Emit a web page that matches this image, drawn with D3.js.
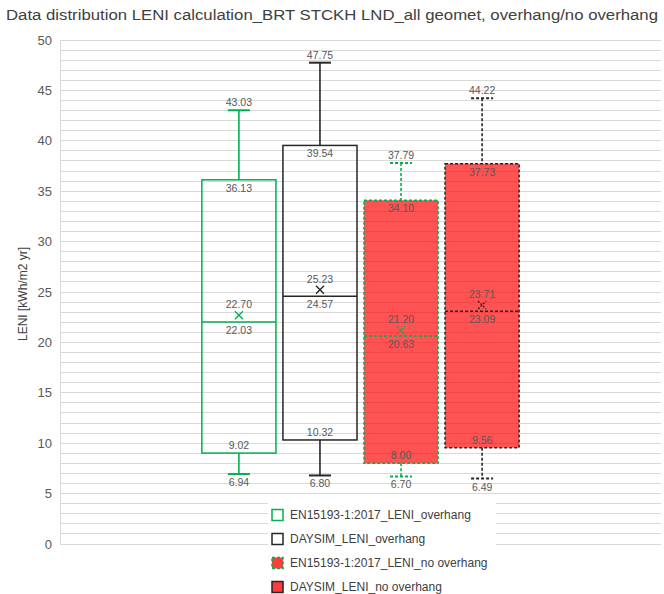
<!DOCTYPE html>
<html><head><meta charset="utf-8">
<script src="https://cdn.jsdelivr.net/npm/d3@7"></script>
<style>body{margin:0;background:#fff}svg{display:block}text{font-family:"Liberation Sans",Arial,sans-serif}</style>
</head><body><svg id="c" width="664" height="594"></svg>
<script>
const title = "Data distribution LENI calculation_BRT STCKH LND_all geomet, overhang/no overhang";
const yLabel = "LENI [kWh/m2 yr]";
const series = ["EN15193-1:2017_LENI_overhang","DAYSIM_LENI_overhang","EN15193-1:2017_LENI_no overhang","DAYSIM_LENI_no overhang"];
const mins    = [6.94, 6.80, 6.70, 6.49];
const q1s     = [9.02, 10.32, 8.00, 9.56];
const medians = [22.03, 24.57, 20.63, 23.09];
const means   = [22.70, 25.23, 21.20, 23.71];
const q3s     = [36.13, 39.54, 34.10, 37.73];
const maxs    = [43.03, 47.75, 37.79, 44.22];
const yTicks  = [0,5,10,15,20,25,30,35,40,45,50];

const strokeCols = ["#00b050","#262626","#00b050","#262626"];
const filled = [false,false,true,true];
const dashed = [false,false,true,true];
const labCol = "#595959";

const svg = d3.select("#c");
const y = d3.scaleLinear().domain([0,50]).range([544,40]);
const x = d3.scaleBand().domain(series).range([60,661]).paddingInner(0.086).paddingOuter(1.75);

// title
svg.append("text").attr("x",6).attr("y",20).attr("font-size",15.5).attr("fill","#404040")
  .attr("textLength",652).attr("lengthAdjust","spacingAndGlyphs").text(title);

// gridlines every 1
svg.append("g").selectAll("line").data(d3.range(0,51)).join("line")
  .attr("x1",60).attr("x2",661).attr("y1",d=>y(d)).attr("y2",d=>y(d))
  .attr("stroke","#d9d9d9").attr("stroke-width",1).attr("shape-rendering","crispEdges");
// left axis line
svg.append("line").attr("x1",60.5).attr("x2",60.5).attr("y1",y(50)).attr("y2",y(0)).attr("stroke","#d9d9d9");

// tick labels
const ax = svg.append("g").attr("transform","translate(60,0)")
  .call(d3.axisLeft(y).tickValues(yTicks).tickSize(0).tickPadding(8));
ax.select(".domain").remove();
ax.selectAll("text").attr("font-size",13).attr("fill",labCol).attr("font-family","Liberation Sans, Arial, sans-serif");

// y label
svg.append("text").attr("transform","translate(27,294) rotate(-90)").attr("text-anchor","middle")
  .attr("font-size",12).attr("fill","#404040").text(yLabel);

// boxes
const data = series.map((s,i)=>({s,i,min:mins[i],q1:q1s[i],med:medians[i],mean:means[i],q3:q3s[i],max:maxs[i]}));
const g = svg.append("g");
const bw = x.bandwidth();
const capW = 22;
data.forEach(d=>{
  const cx = x(d.s)+bw/2, col = strokeCols[d.i], da = dashed[d.i] ? "3,2" : null;
  const gg = g.append("g");
  gg.append("line").attr("x1",cx).attr("x2",cx).attr("y1",y(d.max)).attr("y2",y(d.q3)).attr("stroke",col).attr("stroke-width",1.6).attr("stroke-dasharray",da);
  gg.append("line").attr("x1",cx).attr("x2",cx).attr("y1",y(d.q1)).attr("y2",y(d.min)).attr("stroke",col).attr("stroke-width",1.6).attr("stroke-dasharray",da);
  [d.max,d.min].forEach(v=>gg.append("line").attr("x1",cx-capW/2).attr("x2",cx+capW/2).attr("y1",y(v)).attr("y2",y(v)).attr("stroke",col).attr("stroke-width",2).attr("stroke-dasharray",da));
  if (filled[d.i]) gg.append("rect").attr("x",x(d.s)).attr("y",y(d.q3)).attr("width",bw).attr("height",y(d.q1)-y(d.q3)).attr("fill","#ff0000").attr("fill-opacity",0.68);
  gg.append("rect").attr("x",x(d.s)).attr("y",y(d.q3)).attr("width",bw).attr("height",y(d.q1)-y(d.q3))
    .attr("fill","none").attr("stroke",col).attr("stroke-width",1.5).attr("stroke-dasharray",da);
  gg.append("line").attr("x1",x(d.s)).attr("x2",x(d.s)+bw).attr("y1",y(d.med)).attr("y2",y(d.med)).attr("stroke",col).attr("stroke-width",1.5).attr("stroke-dasharray",da);
  const my = y(d.mean), s=4;
  gg.append("path").attr("d",`M${cx-s},${my-s}L${cx+s},${my+s}M${cx-s},${my+s}L${cx+s},${my-s}`)
    .attr("stroke",col).attr("stroke-width",1.4).attr("fill","none").attr("stroke-dasharray",dashed[d.i]?"2,1.5":null);
  const lab = (v,dy)=>gg.append("text").attr("x",cx).attr("y",y(v)+dy).attr("text-anchor","middle")
     .attr("font-size",10.5).attr("fill",labCol).text(v.toFixed(2));
  lab(d.max,-4); lab(d.q3,12); lab(d.mean,-7); lab(d.med,12); lab(d.q1,-4); lab(d.min,12);
});

// legend
const lg = svg.append("g");
lg.append("rect").attr("x",268).attr("y",499).attr("width",228).attr("height",95).attr("fill","#fff");
series.forEach((s,i)=>{
  const ly = 515 + i*24;
  const r = lg.append("rect").attr("x",272).attr("y",ly-5.5).attr("width",11).attr("height",11)
    .attr("stroke",strokeCols[i]).attr("stroke-width",1.5)
    .attr("fill",filled[i]?"#ff3b3b":"#fff");
  if (dashed[i] && i===2) r.attr("stroke-dasharray","3,2");
  lg.append("text").attr("x",290).attr("y",ly+4).attr("font-size",12).attr("fill","#404040").text(s);
});
</script></body></html>
